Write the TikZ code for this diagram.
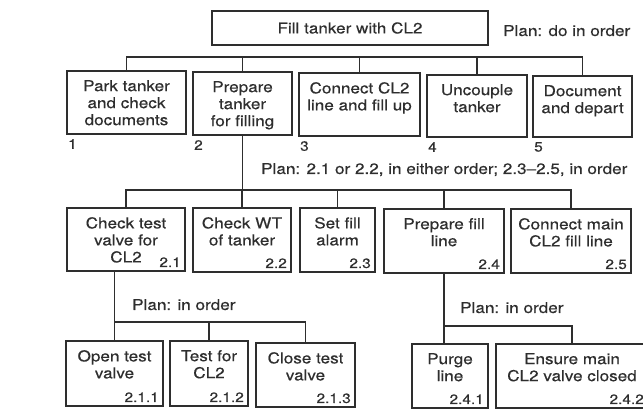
\documentclass[tikz,border=0pt]{standalone}
\usepackage{fontspec}
\setmainfont[FakeStretch=1.14,FakeBold=0.4]{TeX Gyre Heros}
\colorlet{ink}{black!82}
\newcommand\TaskBox[7]{%
  \node[boxst, minimum width=#4-#2, minimum height=#5-#3] (#1) at (#2,#3) {};
  \node[tasktext] (#1t) at ([yshift=-9pt]#1.north) {#6};
  \node[tasknum, anchor=base east] (#1n) at ([xshift=-4pt,yshift=4pt]#1.south east) {#7};
}
\begin{document}
\begin{tikzpicture}[x=1pt,y=-1pt,
  boxst/.style={draw=ink, line width=1.3pt, inner sep=0pt, outer sep=0pt, anchor=north west},
  tasktext/.style={font=\fontsize{15}{17}\selectfont, align=center, anchor=north, inner sep=0pt, text=ink},
  tasknum/.style={font=\fontsize{13.5}{15}\selectfont, inner sep=0pt, text=ink},
  plantext/.style={font=\fontsize{15}{17}\selectfont, inner sep=0pt, anchor=base west, text=ink},
  link/.style={draw=ink, line width=1.8pt}]
\useasboundingbox (0,0) rectangle (643,419);

% top task
\node[boxst, minimum width=276, minimum height=34, font=\fontsize{15}{17}\selectfont, text=ink] (top) at (212,11) {Fill tanker with CL2};
\node[plantext] (plan0) at (503,36) {Plan: do in order};

% level 1
\TaskBox{b1}{67}{71}{186}{134}{Park tanker\\and check\\documents}{}
\TaskBox{b2}{193}{72}{292}{135}{Prepare\\tanker\\for filling}{}
\TaskBox{b3}{299}{73}{420}{136}{Connect CL2\\line and fill up}{}
\TaskBox{b4}{427}{75}{527}{137}{Uncouple\\tanker}{}
\TaskBox{b5}{533}{76}{632}{137}{Document\\and depart}{}
\foreach \n/\t in {b1/1,b2/2,b3/3,b4/4,b5/5}
  \node[tasknum, anchor=north west] (\n num) at ([xshift=1pt,yshift=-5pt]\n.south west) {\t};

\coordinate (bus1) at (350,57);
\draw[link] (b1.north) -- (b1.north |- bus1) -- (b5.north |- bus1) -- (b5.north);
\foreach \n in {b2,b3,b4} \draw[link] (\n.north |- bus1) -- (\n.north);

% level 2
\node[plantext] (plan2) at (261,174) {Plan: 2.1 or 2.2, in either order; 2.3\textendash 2.5, in order};
\TaskBox{c1}{67}{208}{185}{271}{Check test\\valve for\\CL2}{2.1}
\TaskBox{c2}{193}{208}{291}{272}{Check WT\\of tanker}{2.2}
\TaskBox{c3}{300}{208}{375}{272}{Set fill\\alarm}{2.3}
\TaskBox{c4}{384}{209}{504}{273}{Prepare fill\\line}{2.4}
\TaskBox{c5}{511}{209}{631}{273}{Connect main\\CL2 fill line}{2.5}

\coordinate (bus2) at (0,190);
\draw[link] (b2.south) -- (b2.south |- bus2);
\draw[link] (c1.north) -- (c1.north |- bus2) -- (c5.north |- bus2) -- (c5.north);
\foreach \n in {c2,c3,c4} \draw[link] (\n.north |- bus2) -- (\n.north);

% level 3, under 2.1
\node[plantext] (plan21) at (132,310) {Plan: in order};
\TaskBox{d1}{66}{341}{163}{406}{Open test\\valve}{2.1.1}
\TaskBox{d2}{170}{341}{248}{406}{Test for\\CL2}{2.1.2}
\TaskBox{d3}{256}{343}{355}{407}{Close test\\valve}{2.1.3}
\coordinate (bus3) at (0,322);
\draw[link] (c1.south -| d1.north) -- (d1.north |- bus3) -- (d3.north |- bus3) -- (d3.north);
\draw[link] (d1.north |- bus3) -- (d1.north);
\draw[link] (d2.north |- bus3) -- (d2.north);

% level 3, under 2.4
\node[plantext] (plan24) at (460,313) {Plan: in order};
\TaskBox{e1}{412}{344}{488}{408}{Purge\\line}{2.4.1}
\TaskBox{e2}{496}{344}{648}{408}{Ensure main\\CL2 valve closed}{2.4.2}
\coordinate (bus4) at (0,326);
\draw[link] (c4.south) -- (c4.south |- bus4) -- (e2.north |- bus4) -- (e2.north);
\draw[link] (c4.south |- bus4) -- (c4.south |- e1.north);
\end{tikzpicture}
\end{document}
